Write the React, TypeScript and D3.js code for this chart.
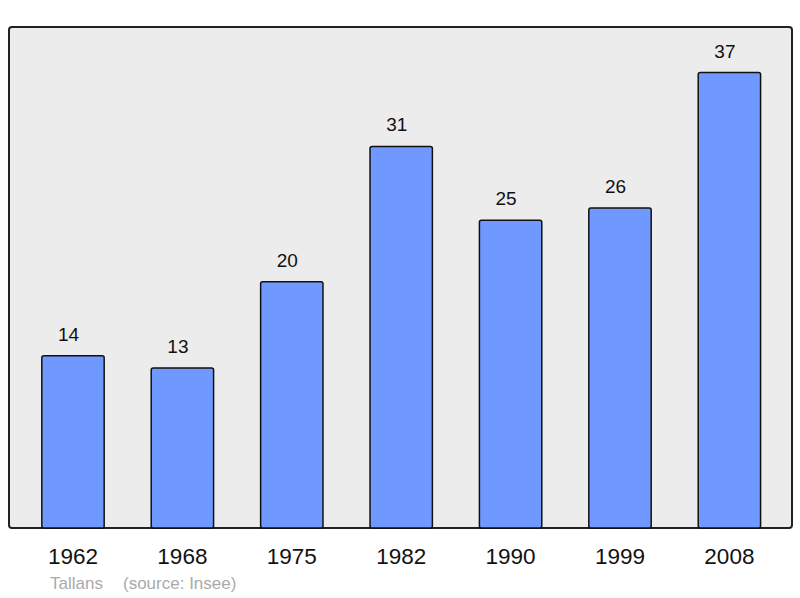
import React from 'react';
import * as d3 from 'd3';

const years = ['1962', '1968', '1975', '1982', '1990', '1999', '2008'];
const population = [14, 13, 20, 31, 25, 26, 37];
const commune = 'Tallans';
const source = '(source: Insee)';

const W = 800;
const H = 598;
const frame = { left: 9, top: 27, right: 792, bottom: 528 };

const App = () => {
    const x = d3.scaleBand<string>()
        .domain(years)
        .range([18.3, 784.1])
        .paddingInner(0.43)
        .paddingOuter(0.215);

    const y = d3.scaleLinear()
        .domain([0, d3.max(population)! * 1.1])
        .range([frame.bottom, frame.top]);

    return (
        <svg width={W} height={H} style={{ position: 'absolute', left: 0, top: 0 }}
            fontFamily="'Liberation Sans', Arial, sans-serif">
            <rect x={frame.left} y={frame.top} width={frame.right - frame.left} height={frame.bottom - frame.top}
                rx={3} fill="#ececec" stroke="#222" strokeWidth={2} />
            {years.map((yr, i) => {
                const bx = x(yr)!;
                const cx = bx + x.bandwidth() / 2;
                return (
                    <g key={yr}>
                        <rect x={bx} y={y(population[i])} width={x.bandwidth()} height={frame.bottom - y(population[i])}
                            rx={2} fill="#7099ff" stroke="#111" strokeWidth={1.5} />
                        <text x={cx - 4.5} y={y(population[i]) - 15} textAnchor="middle" fontSize={19} fill="#111">
                            {population[i]}
                        </text>
                        <text x={cx} y={564} textAnchor="middle" fontSize={22.5} fill="#111">{yr}</text>
                    </g>
                );
            })}
            <text x={50} y={589} fontSize={17} fill="#aaa">{commune}</text>
            <text x={123} y={589} fontSize={17} fill="#aaa">{source}</text>
        </svg>
    );
};

export default App;
